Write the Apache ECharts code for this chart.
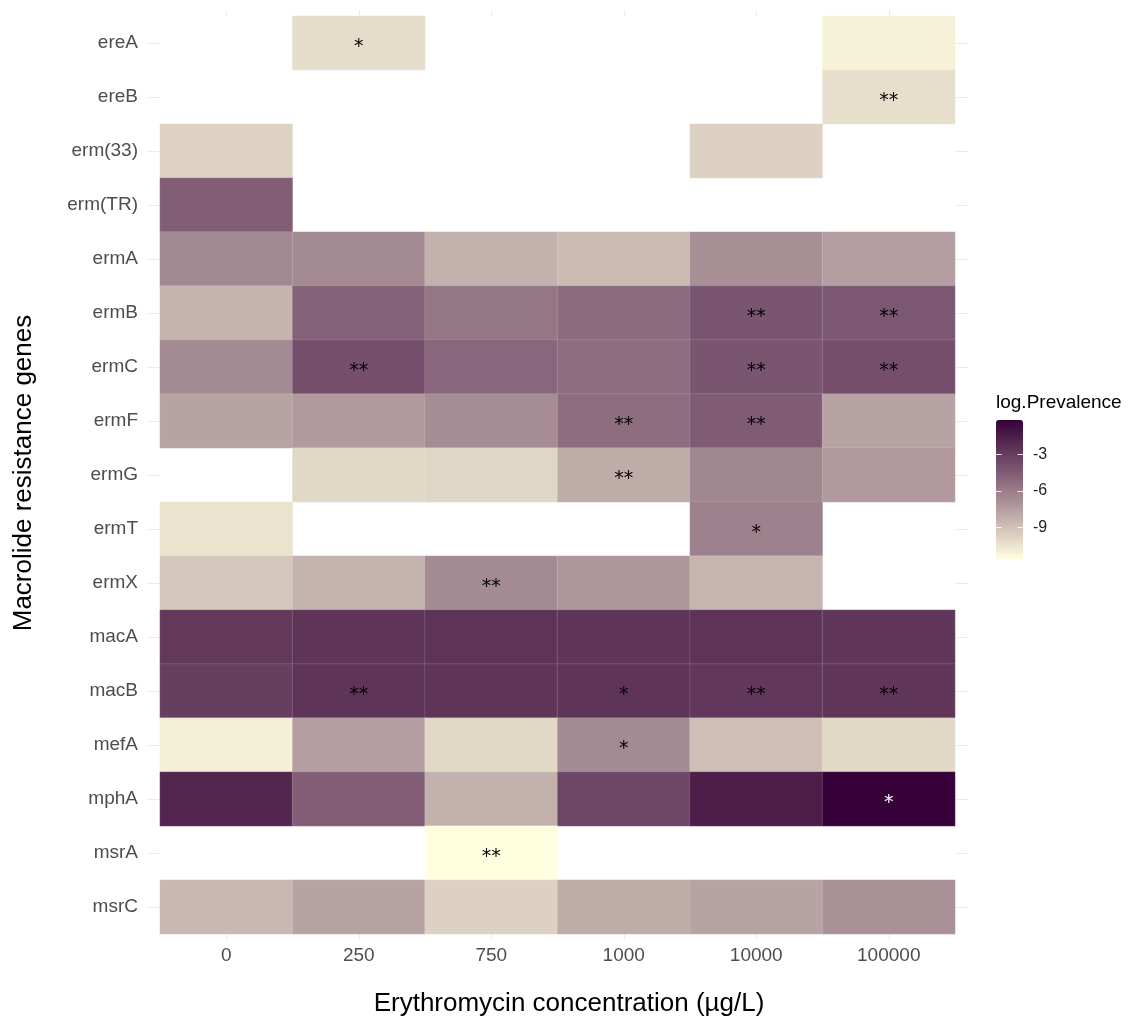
<!DOCTYPE html>
<html>
<head>
<meta charset="utf-8">
<title>Macrolide resistance genes heatmap</title>
<script src="https://cdn.jsdelivr.net/npm/echarts@6/dist/echarts.min.js"></script>
<style>
  html, body { margin: 0; padding: 0; background: #ffffff; }
  #chart { width: 1130px; height: 1021px; }
</style>
</head>
<body>
<div id="chart"></div>
<script>
// Erythromycin concentrations (µg/L) along the x axis
const concentrations = ['0', '250', '750', '1000', '10000', '100000'];

// Macrolide resistance genes, top to bottom
const genes = ['ereA', 'ereB', 'erm(33)', 'erm(TR)', 'ermA', 'ermB', 'ermC', 'ermF',
               'ermG', 'ermT', 'ermX', 'macA', 'macB', 'mefA', 'mphA', 'msrA', 'msrC'];

// log prevalence per gene (rows) and concentration (columns); null = not detected
const logPrevalence = [
  [null, -10.2, null, null, null, -11.1],     // ereA
  [null, null, null, null, null, -10.3],      // ereB
  [-9.8, null, null, null, -9.7, null],       // erm(33)
  [-4.6, null, null, null, null, null],       // erm(TR)
  [-6.5, -6.6, -8.3, -8.75, -6.8, -7.5],      // ermA
  [-8.4, -4.8, -5.7, -5.2, -4.2, -4.3],       // ermB
  [-6.6, -3.85, -5.0, -5.3, -4.2, -3.85],     // ermC
  [-7.7, -7.3, -6.7, -5.3, -4.5, -7.7],       // ermF
  [null, -10.0, -9.9, -8.1, -6.4, -7.3],      // ermG
  [-10.5, null, null, null, -6.2, null],      // ermT
  [-9.3, -8.4, -6.6, -7.15, -8.5, null],      // ermX
  [-2.8, -2.6, -2.55, -2.6, -2.55, -2.7],     // macA
  [-3.05, -2.6, -2.6, -2.6, -2.75, -2.7],     // macB
  [-11.0, -7.5, -10.0, -6.6, -8.9, -10.0],    // mefA
  [-1.9, -4.6, -8.3, -3.5, -1.55, -0.2],      // mphA
  [null, null, -11.6, null, null, null],      // msrA
  [-8.6, -7.7, -9.7, -8.1, -7.7, -6.9]        // msrC
];

// significance markers per gene and concentration
const significance = [
  ['', '*', '', '', '', ''],
  ['', '', '', '', '', '**'],
  ['', '', '', '', '', ''],
  ['', '', '', '', '', ''],
  ['', '', '', '', '', ''],
  ['', '', '', '', '**', '**'],
  ['', '**', '', '', '**', '**'],
  ['', '', '', '**', '**', ''],
  ['', '', '', '**', '', ''],
  ['', '', '', '', '*', ''],
  ['', '', '**', '', '', ''],
  ['', '', '', '', '', ''],
  ['', '**', '', '*', '**', '**'],
  ['', '', '', '*', '', ''],
  ['', '', '', '', '', '*'],
  ['', '', '**', '', '', ''],
  ['', '', '', '', '', '']
];

// colour bar tick labels
const legendTicks = [-3, -6, -9];

// gradient end points
const lowColor = [255, 255, 224];
const highColor = [54, 0, 56];

// ---- CIELAB interpolation so the ramp behaves like a perceptual gradient ----
function toLinear(c) { c /= 255; return c <= 0.04045 ? c / 12.92 : Math.pow((c + 0.055) / 1.055, 2.4); }
function fromLinear(c) { const v = c <= 0.0031308 ? 12.92 * c : 1.055 * Math.pow(c, 1 / 2.4) - 0.055; return Math.round(Math.min(1, Math.max(0, v)) * 255); }
const WP = [0.95047, 1, 1.08883];
function fLab(t) { return t > 0.008856 ? Math.cbrt(t) : 7.787 * t + 16 / 116; }
function fLabInv(t) { return t > 0.206893 ? t * t * t : (t - 16 / 116) / 7.787; }
function rgbToLab(rgb) {
  const [r, g, b] = rgb.map(toLinear);
  const X = (0.4124 * r + 0.3576 * g + 0.1805 * b) / WP[0];
  const Y = (0.2126 * r + 0.7152 * g + 0.0722 * b) / WP[1];
  const Z = (0.0193 * r + 0.1192 * g + 0.9505 * b) / WP[2];
  const fx = fLab(X), fy = fLab(Y), fz = fLab(Z);
  return [116 * fy - 16, 500 * (fx - fy), 200 * (fy - fz)];
}
function labToRgb(lab) {
  const fy = (lab[0] + 16) / 116, fx = fy + lab[1] / 500, fz = fy - lab[2] / 200;
  const X = fLabInv(fx) * WP[0], Y = fLabInv(fy) * WP[1], Z = fLabInv(fz) * WP[2];
  const r = 3.2406 * X - 1.5372 * Y - 0.4986 * Z;
  const g = -0.9689 * X + 1.8758 * Y + 0.0415 * Z;
  const b = 0.0557 * X - 0.2040 * Y + 1.0570 * Z;
  return 'rgb(' + fromLinear(r) + ',' + fromLinear(g) + ',' + fromLinear(b) + ')';
}
const labLow = rgbToLab(lowColor), labHigh = rgbToLab(highColor);
const rampColors = [];
const STEPS = 24;
for (let i = 0; i <= STEPS; i++) {
  const t = i / STEPS;
  rampColors.push(labToRgb(labLow.map((v, k) => v + (labHigh[k] - v) * t)));
}

// ---- heatmap cells ----
const allValues = logPrevalence.flat().filter(v => v !== null);
const vMin = Math.min(...allValues);
const vMax = Math.max(...allValues);

const cells = [];
logPrevalence.forEach((row, gi) => {
  row.forEach((v, ci) => {
    if (v === null) return;
    cells.push({
      value: [ci, gi, v],
      sig: significance[gi][ci],
      label: { color: v > -1 ? '#ffffff' : '#000000' }
    });
  });
});

const FONT = "'Liberation Sans', Arial, Helvetica, sans-serif";
const gridColor = '#EBEBEB';
const tickText = '#4D4D4D';

// colour bar geometry
const barLeft = 996, barTop = 420, barW = 27, barH = 139;
function barY(v) { return barTop + (vMax - v) / (vMax - vMin) * barH; }

const legendGraphics = [];
legendTicks.forEach(t => {
  const y = Math.round(barY(t)) + 0.5;
  legendGraphics.push({ type: 'line', z: 100, shape: { x1: barLeft, y1: y, x2: barLeft + 5.5, y2: y }, style: { stroke: 'rgba(255,255,255,0.85)', lineWidth: 1 } });
  legendGraphics.push({ type: 'line', z: 100, shape: { x1: barLeft + barW - 5.5, y1: y, x2: barLeft + barW, y2: y }, style: { stroke: 'rgba(255,255,255,0.85)', lineWidth: 1 } });
  legendGraphics.push({ type: 'text', z: 100, x: barLeft + barW + 10, y: barY(t), style: { text: String(t), font: '16px ' + FONT, fill: '#222222', textVerticalAlign: 'middle', textAlign: 'left' } });
});

const chart = echarts.init(document.getElementById('chart'), null, { renderer: 'canvas' });

chart.setOption({
  backgroundColor: '#ffffff',
  animation: false,
  textStyle: { fontFamily: FONT },
  grid: { left: 160, right: 175, top: 16, bottom: 87, containLabel: false },
  xAxis: [
    {
      type: 'category', data: concentrations, position: 'bottom',
      axisLine: { show: false },
      axisTick: { show: true, alignWithLabel: true, length: 6, lineStyle: { color: gridColor, width: 1 } },
      axisLabel: { color: tickText, fontSize: 19, margin: 12, fontFamily: FONT },
      splitLine: { show: false }
    },
    {
      type: 'category', data: concentrations, position: 'top',
      axisLine: { show: false },
      axisTick: { show: true, alignWithLabel: true, length: 6, lineStyle: { color: gridColor, width: 1 } },
      axisLabel: { show: false },
      splitLine: { show: false }
    }
  ],
  yAxis: [
    {
      type: 'category', data: genes, inverse: true, position: 'left',
      axisLine: { show: false },
      axisTick: { show: true, alignWithLabel: true, length: 13, lineStyle: { color: gridColor, width: 1 } },
      axisLabel: { color: tickText, fontSize: 19, margin: 22, fontFamily: FONT },
      splitLine: { show: false }
    },
    {
      type: 'category', data: genes, inverse: true, position: 'right',
      axisLine: { show: false },
      axisTick: { show: true, alignWithLabel: true, length: 13, lineStyle: { color: gridColor, width: 1 } },
      axisLabel: { show: false },
      splitLine: { show: false }
    }
  ],
  visualMap: {
    type: 'continuous',
    seriesIndex: 0,
    dimension: 2,
    min: vMin,
    max: vMax,
    calculable: false,
    hoverLink: false,
    orient: 'vertical',
    left: barLeft,
    top: barTop,
    itemWidth: barW,
    itemHeight: barH,
    padding: 0,
    text: null,
    inRange: { color: rampColors }
  },
  series: [{
    type: 'heatmap',
    xAxisIndex: 0,
    yAxisIndex: 0,
    data: cells,
    itemStyle: { borderColor: 'rgba(255,255,255,0.22)', borderWidth: 0.6 },
    label: {
      show: true,
      formatter: p => p.data.sig,
      fontFamily: "'DejaVu Sans', sans-serif",
      fontSize: 19,
      offset: [0, 4]
    },
    emphasis: { disabled: true }
  }],
  graphic: [
    {
      type: 'text', x: 569, y: 1004,
      style: { text: 'Erythromycin concentration (µg/L)', font: '26px ' + FONT, fill: '#000000', textAlign: 'center', textVerticalAlign: 'middle' }
    },
    {
      type: 'text', x: 24, y: 473, rotation: Math.PI / 2,
      style: { text: 'Macrolide resistance genes', font: '26px ' + FONT, fill: '#000000', textAlign: 'center', textVerticalAlign: 'middle' }
    },
    {
      type: 'text', x: barLeft, y: 403,
      style: { text: 'log.Prevalence', font: '19px ' + FONT, fill: '#000000', textAlign: 'left', textVerticalAlign: 'middle' }
    }
  ].concat(legendGraphics)
});
</script>
</body>
</html>
